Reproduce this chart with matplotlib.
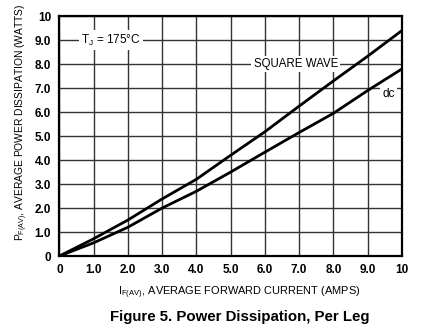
import matplotlib
matplotlib.use("Agg")
import matplotlib.pyplot as plt
from matplotlib import font_manager

# Average forward current (A) and power dissipation (W) per leg
current = [0, 1, 2, 3, 4, 5, 6, 7, 8, 9, 10]
p_square = [0, 0.72, 1.5, 2.38, 3.2, 4.2, 5.18, 6.25, 7.3, 8.33, 9.4]
p_dc = [0, 0.55, 1.2, 2.0, 2.7, 3.5, 4.33, 5.15, 5.95, 6.9, 7.8]

x_ticks = [0, 1, 2, 3, 4, 5, 6, 7, 8, 9, 10]
x_labels = ["0", "1.0", "2.0", "3.0", "4.0", "5.0", "6.0", "7.0", "8.0", "9.0", "10"]
y_ticks = [0, 1, 2, 3, 4, 5, 6, 7, 8, 9, 10]
y_labels = ["0", "1.0", "2.0", "3.0", "4.0", "5.0", "6.0", "7.0", "8.0", "9.0", "10"]

names = {f.name for f in font_manager.fontManager.ttflist}
narrow = "Liberation Sans Narrow" if "Liberation Sans Narrow" in names else "Liberation Sans"
plt.rcParams["font.family"] = [narrow, "DejaVu Sans"]
plt.rcParams["mathtext.fontset"] = "custom"
plt.rcParams["mathtext.rm"] = narrow
plt.rcParams["mathtext.it"] = narrow

fig = plt.figure(figsize=(4.24, 3.36), dpi=100)
ax = fig.add_axes([0.140, 0.238, 0.808, 0.714])

ax.plot(current, p_square, color="black", lw=2.0, zorder=3)
ax.plot(current, p_dc, color="black", lw=2.0, zorder=3)

ax.set_xlim(0, 10)
ax.set_ylim(0, 10)
ax.set_xticks(x_ticks)
ax.set_xticklabels(x_labels, fontsize=8.5, fontweight="bold")
ax.set_yticks(y_ticks)
ax.set_yticklabels(y_labels, fontsize=8.5, fontweight="bold")
ax.tick_params(length=0, pad=6)
ax.grid(True, color="#333333", lw=1.0)
ax.set_axisbelow(True)
for s in ax.spines.values():
    s.set_linewidth(1.6)

box = dict(facecolor="white", edgecolor="none", pad=1.5)
ax.text(1.5, 9.0, r"T$_\mathregular{J}$ = 175°C", fontsize=8.5, ha="center", va="center", bbox=box, zorder=4)
ax.text(6.9, 8.0, "SQUARE WAVE", fontsize=8.3, ha="center", va="center", bbox=box, zorder=4)
ax.text(9.6, 6.75, "dc", fontsize=8.5, ha="center", va="center", bbox=box, zorder=4)

fig.text(0.052, 0.637, r"P$_\mathregular{F(AV)}$, AVERAGE POWER DISSIPATION (WATTS)",
         rotation=90, fontsize=7.4, ha="center", va="center")
fig.text(0.564, 0.128, r"I$_\mathregular{F(AV)}$, AVERAGE FORWARD CURRENT (AMPS)",
         fontsize=7.9, ha="center", va="center")
fig.text(0.566, 0.058, "Figure 5. Power Dissipation, Per Leg", fontsize=10.8,
         fontweight="bold", ha="center", va="center", family=["Liberation Sans", "DejaVu Sans"])

fig.savefig("out.png", dpi=100)
